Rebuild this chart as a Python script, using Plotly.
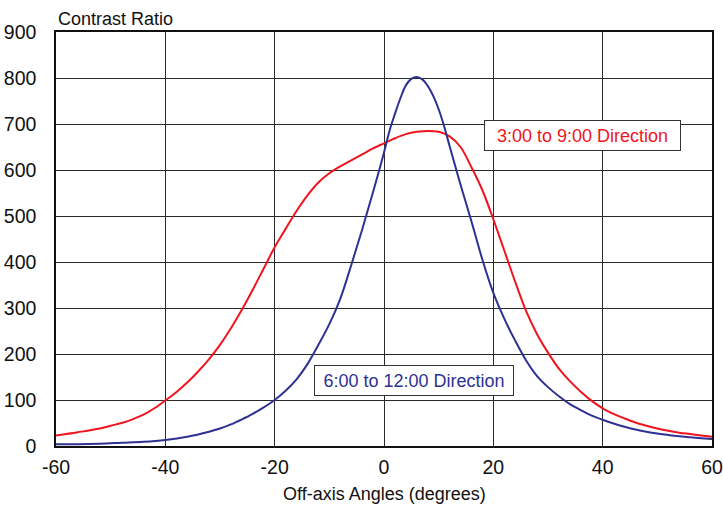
import plotly.graph_objects as go

angles_red = [-60, -56, -52, -50, -48, -46, -44, -42, -40, -38, -36, -34, -32, -30, -28, -26, -24, -22, -20,
              -18, -16, -14, -12, -10, -8, -6, -4, -2, 0, 2, 4, 6, 8, 10, 12, 14, 16, 18, 20,
              22, 24, 26, 28, 30, 32, 34, 36, 38, 40, 42, 44, 46, 48, 50, 52, 54, 56, 58, 60]
red_3_9 = [23, 30, 38, 44, 50, 58, 68, 82, 99, 117, 138, 162, 189, 220, 256, 296, 340, 386, 432,
           472, 511, 545, 573, 593, 608, 621, 634, 647, 658, 669, 678, 683, 685, 683, 673, 650, 606, 556, 493,
           425, 357, 293, 243, 203, 168, 141, 118, 98, 82, 70, 60, 51, 44, 38, 33, 29, 26, 23, 20]

angles_blue = [-60, -56, -52, -48, -44, -40, -36, -32, -30, -28, -26, -24, -22, -20, -18, -16, -14,
               -12, -10, -8, -6, -4, -2, 0, 1, 2, 3, 4, 5, 6, 7, 8, 9, 10, 11, 12, 14, 16, 18,
               20, 22, 24, 26, 28, 30, 32, 34, 36, 38, 40, 42, 44, 46, 48, 50, 52, 54, 56, 58, 60]
blue_6_12 = [4, 4, 5, 7, 9, 13, 20, 31, 38, 47, 58, 70, 84, 100, 120, 145, 178,
             220, 265, 320, 393, 470, 552, 638, 685, 722, 756, 784, 798, 802, 797, 783, 761, 732, 695, 652, 568, 488, 405,
             333, 277, 229, 186, 152, 128, 108, 91, 78, 66, 57, 49, 42, 36, 31, 27, 24, 21, 19, 17, 15]

x_ticks = [-60, -40, -20, 0, 20, 40, 60]
x_tick_text = ["-60", "-40", "-20", "0", "20", "40", "60"]
y_ticks = [0, 100, 200, 300, 400, 500, 600, 700, 800, 900]

red_col = "#f0141e"
blue_col = "#2e3192"
font = "Liberation Sans, Arial, sans-serif"

fig = go.Figure()
fig.add_trace(go.Scatter(x=angles_red, y=red_3_9, mode="lines",
                         line=dict(color=red_col, width=2, shape="spline", smoothing=1.0),
                         name="3:00 to 9:00 Direction", showlegend=False))
fig.add_trace(go.Scatter(x=angles_blue, y=blue_6_12, mode="lines",
                         line=dict(color=blue_col, width=2, shape="spline", smoothing=1.0),
                         name="6:00 to 12:00 Direction", showlegend=False))

axis_common = dict(showgrid=True, gridcolor="#2a2a2a", gridwidth=1,
                   showline=True, linecolor="#111", linewidth=1.5, mirror=True,
                   zeroline=False, ticks="", automargin=False,
                   tickfont=dict(size=19.5, color="#111", family=font))

fig.update_xaxes(range=[-60, 60], tickvals=x_ticks, ticktext=x_tick_text,
                 ticklabelstandoff=3, **axis_common)
fig.update_yaxes(range=[0, 900], tickvals=y_ticks, ticklabelstandoff=14, **axis_common)

fig.add_annotation(text="3:00 to 9:00 Direction", x=36.4, y=674, xref="x", yref="y",
                   showarrow=False, font=dict(size=18, color=red_col, family=font),
                   bgcolor="white", bordercolor="#333", borderwidth=1, borderpad=4,
                   width=187, height=21)
fig.add_annotation(text="6:00 to 12:00 Direction", x=5.4, y=142, xref="x", yref="y",
                   showarrow=False, font=dict(size=18, color=blue_col, family=font),
                   bgcolor="white", bordercolor="#333", borderwidth=1, borderpad=4,
                   width=190, height=21)
fig.add_annotation(text="Contrast Ratio", x=0, y=1, xref="paper", yref="paper",
                   xanchor="left", yanchor="bottom", yshift=1, showarrow=False,
                   font=dict(size=18, color="#111", family=font))
fig.add_annotation(text="Off-axis Angles (degrees)", x=0.5, y=-0.116, xref="paper", yref="paper",
                   xanchor="center", yanchor="middle", showarrow=False,
                   font=dict(size=18, color="#111", family=font))

fig.update_layout(width=723, height=509, margin=dict(l=56, r=11, t=32, b=63),
                  plot_bgcolor="white", paper_bgcolor="white",
                  font=dict(family=font))
fig.write_html("out.html")
